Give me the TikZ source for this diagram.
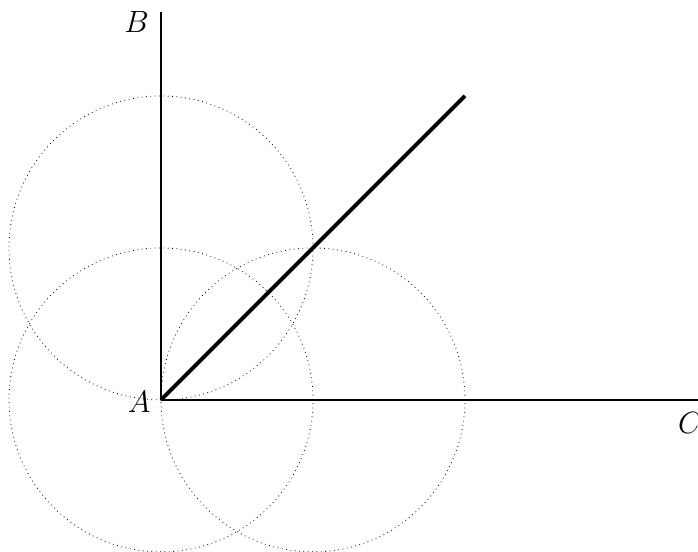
\documentclass[tikz,border=0pt]{standalone}
\begin{document}
\begin{tikzpicture}[
  axis/.style={line width=1.1pt},
  bis/.style={line width=2.2pt},
  arcs/.style={dotted, black, line width=0.45pt},
  lbl/.style={font=\fontsize{16.5}{18}\selectfont, inner sep=0pt}
]
\useasboundingbox (-3.178,-3) rectangle (10.60,7.894);
\coordinate (A) at (0,0);
\coordinate (Bt) at (0,7.66);
\coordinate (Ct) at (10.7,0);
\coordinate (P) at (0,3);
\coordinate (Q) at (3,0);
\coordinate (D) at (6,6);
\draw[arcs] (A) circle (3);
\draw[arcs] (P) circle (3);
\draw[arcs] (Q) circle (3);
\draw[axis] (A) -- (Bt);
\draw[axis] (A) -- (Ct);
\draw[bis, line cap=butt] (A) -- (D);
\node[lbl] (la) at (-0.43,-0.04) {$A$};
\node[lbl] (lb) at (-0.48,7.46) {$B$};
\node[lbl] (lc) at (10.44,-0.45) {$C$};
\end{tikzpicture}
\end{document}
